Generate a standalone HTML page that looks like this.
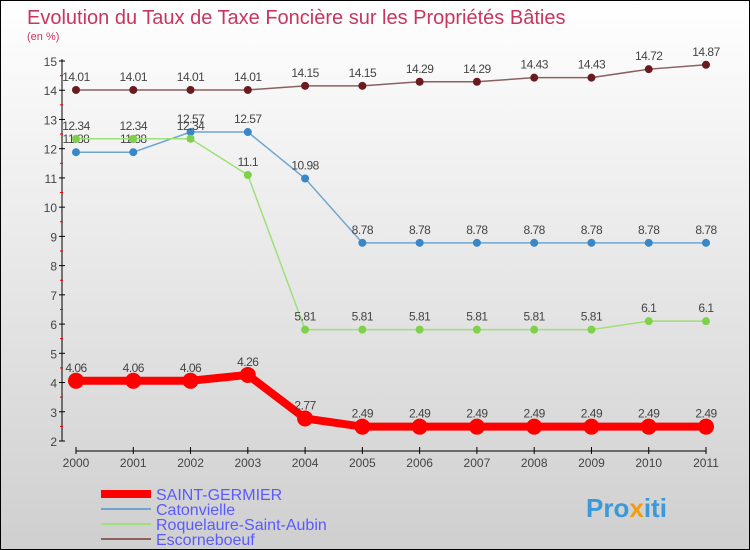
<!DOCTYPE html>
<html><head><meta charset="utf-8"><style>
body{margin:0}
#c{width:750px;height:550px;position:relative;box-sizing:border-box;border:1px solid #000;background:linear-gradient(#fff,#cfcfcf);font-family:"Liberation Sans",sans-serif;overflow:hidden}
</style></head><body>
<div id="c">
<svg id="s" width="748" height="548" style="position:absolute;left:0;top:0">
<text x="26" y="23" font-size="20" fill="#c8365f">Evolution du Taux de Taxe Foncière sur les Propriétés Bâties</text>
<text x="26" y="39" font-size="11" fill="#c8365f">(en %)</text>
<g id="axes"></g><g id="series"></g><g id="legend"></g>
<text x="585" y="516" font-size="26" font-weight="bold" fill="#3a9ad9">Pro<tspan fill="#f39c12">x</tspan>iti</text>
</svg>
</div>
<script>
const years=[2000,2001,2002,2003,2004,2005,2006,2007,2008,2009,2010,2011];
const yTicks=[2,3,4,5,6,7,8,9,10,11,12,13,14,15];
const sSaint=[4.06,4.06,4.06,4.26,2.77,2.49,2.49,2.49,2.49,2.49,2.49,2.49];
const sCaton=[11.88,11.88,12.57,12.57,10.98,8.78,8.78,8.78,8.78,8.78,8.78,8.78];
const sRoque=[12.34,12.34,12.34,11.1,5.81,5.81,5.81,5.81,5.81,5.81,6.1,6.1];
const sEscor=[14.01,14.01,14.01,14.01,14.15,14.15,14.29,14.29,14.43,14.43,14.72,14.87];
const names=["SAINT-GERMIER","Catonvielle","Roquelaure-Saint-Aubin","Escorneboeuf"];
const NS="http://www.w3.org/2000/svg";
const X=i=>75+i*(630/11), Y=v=>440-(v-2)*(380/13);
function mk(p,t,a){const e=document.createElementNS(NS,t);for(const k in a)e.setAttribute(k,a[k]);p.appendChild(e);return e;}
const ax=document.getElementById('axes');
let e=mk(ax,'line',{x1:61,y1:58,x2:61,y2:440,stroke:'#000'});

e=mk(ax,'line',{x1:75,y1:450,x2:705,y2:450,stroke:'#000'});

yTicks.forEach(v=>{mk(ax,'line',{x1:58,x2:64,y1:Y(v),y2:Y(v),stroke:'#000'});
 if(v<15)mk(ax,'line',{x1:59,x2:62,y1:Y(v+.5),y2:Y(v+.5),stroke:'#e00'});
 const t=mk(ax,'text',{x:56,y:Y(v)+5,'font-size':12,'text-anchor':'end',fill:'#444'});t.textContent=v;
 });
years.forEach((y,i)=>{mk(ax,'line',{x1:X(i),x2:X(i),y1:446,y2:453,stroke:'#000'});
 const t=mk(ax,'text',{x:X(i),y:466,'font-size':12,'text-anchor':'middle',fill:'#444'});t.textContent=y;
 });
const sg=document.getElementById('series');
const defs=[[sEscor,'#6b1a1f','#8a6060',1.5,4,'series-escorneboeuf'],[sCaton,'#3a87c8','#6fa6d0',1.5,4,'series-catonvielle'],[sRoque,'#7fd14a','#9ee07a',1.5,4,'series-roquelaure'],[sSaint,'#f00','#f00',8,8,'series-saint-germier']];
defs.forEach(([d,c,lc,w,r,n])=>{const g=mk(sg,'g',{});
 mk(g,'polyline',{points:d.map((v,i)=>X(i)+','+Y(v)).join(' '),fill:'none',stroke:lc,'stroke-width':w});
 d.forEach((v,i)=>{const p=mk(g,'circle',{cx:X(i),cy:Y(v),r:r,fill:c});
  const t=mk(g,'text',{x:X(i),y:Y(v)-9,'font-size':12,'text-anchor':'middle',fill:'#444','letter-spacing':'-0.5'});t.textContent=v;
  });});
const lg=document.getElementById('legend');
[['#f00',8],['#6fa6d0',2],['#9ee07a',2],['#8a6060',2]].forEach(([c,w],i)=>{const y=493+i*15;
 const g=mk(lg,'g',{});
 mk(g,'line',{x1:100,x2:150,y1:y,y2:y,stroke:c,'stroke-width':w});
 const t=mk(g,'text',{x:155,y:y+6,'font-size':16,fill:'#5a5aff'});t.textContent=names[i];});
</script>
</body></html>
